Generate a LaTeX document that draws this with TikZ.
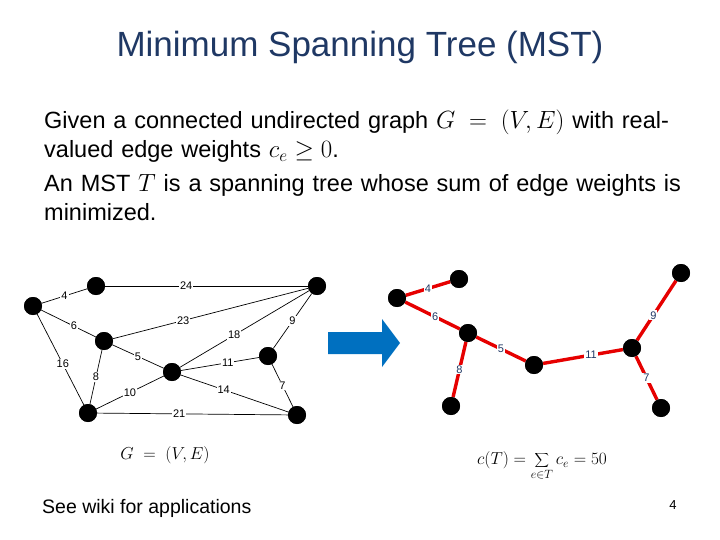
\documentclass[tikz,border=0pt]{standalone}
\usepackage{fontspec}
\setmainfont{Liberation Sans}
\definecolor{navy}{RGB}{31,56,100}
\definecolor{arrblue}{RGB}{0,112,192}
\definecolor{mstred}{RGB}{230,0,0}
\begin{document}
\begin{tikzpicture}[x=1pt,y=-1pt,
  vtx/.style={circle,fill=black,inner sep=0,minimum size=18pt},
  lbl/.style={fill=white,inner sep=1pt,font=\fontsize{11}{13}\selectfont},
  rlbl/.style={fill=white,inner sep=1pt,font=\fontsize{11}{13}\selectfont,text=navy},
  ed/.style={draw=black,line width=0.7pt},
  red/.style={draw=mstred,line width=3.4pt}]
\useasboundingbox (0,0) rectangle (720,540);
\node[text=navy,font=\fontsize{35}{40}\selectfont] (title) at (360,47) {Minimum Spanning Tree (MST)};
\node[anchor=north west,text width=680pt,align=left,font=\fontsize{23.5}{29}\selectfont,inner sep=0] (body) at (44,110)
 {Given a connected undirected graph $G\;=\;(V,E)$ with real-\\valued edge weights $c_e\geq 0$.\\[5pt]An MST $T$ is a spanning tree whose sum of edge weights is\\minimized.};
% left graph
\node[vtx] (a) at (33,306) {};
\node[vtx] (b) at (96,286) {};
\node[vtx] (c) at (317,286) {};
\node[vtx] (d) at (104,341) {};
\node[vtx] (e) at (172,372) {};
\node[vtx] (f) at (268,356) {};
\node[vtx] (g) at (88,413) {};
\node[vtx] (h) at (297,415) {};
\draw[ed] (a)--(b) node[lbl,pos=0.5] {4};
\draw[ed] (b)--(c) node[lbl,pos=0.4] {24};
\draw[ed] (d)--(c) node[lbl,pos=0.36] {23};
\draw[ed] (a)--(d) node[lbl,pos=0.6] {6};
\draw[ed] (e)--(c) node[lbl,pos=0.42] {18};
\draw[ed] (f)--(c) node[lbl,pos=0.5] {9};
\draw[ed] (d)--(e) node[lbl,pos=0.5] {5};
\draw[ed] (e)--(f) node[lbl,pos=0.6] {11};
\draw[ed] (a)--(g) node[lbl,pos=0.55] {16};
\draw[ed] (d)--(g) node[lbl,pos=0.5] {8};
\draw[ed] (e)--(h) node[lbl,pos=0.4] {14};
\draw[ed] (f)--(h) node[lbl,pos=0.5] {7};
\draw[ed] (g)--(e) node[lbl,pos=0.5] {10};
\draw[ed] (g)--(h) node[lbl,pos=0.43] {21};
\node[font=\fontsize{18}{20}\selectfont] (gl) at (165,455) {$G\;=\;(V,E)$};
% arrow
\fill[arrblue] (328,332) -- (382,332) -- (382,319) -- (400,343) -- (382,367) -- (382,354) -- (328,354) -- cycle;
% right graph
\node[vtx] (A) at (397,298) {};
\node[vtx] (B) at (459,279) {};
\node[vtx] (D) at (468,333) {};
\node[vtx] (E) at (534,365) {};
\node[vtx] (G) at (451,406) {};
\node[vtx] (F) at (632,348) {};
\node[vtx] (C) at (681,273) {};
\node[vtx] (H) at (661,408) {};
\draw[red] (A)--(B) node[rlbl,pos=0.5] {4};
\draw[red] (A)--(D) node[rlbl,pos=0.55] {6};
\draw[red] (D)--(E) node[rlbl,pos=0.5] {5};
\draw[red] (D)--(G) node[rlbl,pos=0.5] {8};
\draw[red] (E)--(F) node[rlbl,pos=0.6] {11};
\draw[red] (F)--(C) node[rlbl,pos=0.42] {9};
\draw[red] (F)--(H) node[rlbl,pos=0.5] {7};
\foreach \n in {A,B,C,D,E,F,G,H} \node[vtx] at (\n) {};
\foreach \n in {a,b,c,d,e,f,g,h} \node[vtx] at (\n) {};
\node[font=\fontsize{18}{20}\selectfont] (ct) at (542,466) {$\displaystyle c(T)=\sum_{e\in T} c_e = 50$};
\node[anchor=west,inner sep=0,font=\fontsize{19.5}{22}\selectfont] (wiki) at (42,508) {See wiki for applications};
\node[font=\fontsize{13}{15}\selectfont] (pg) at (673,505) {4};
\end{tikzpicture}
\end{document}
